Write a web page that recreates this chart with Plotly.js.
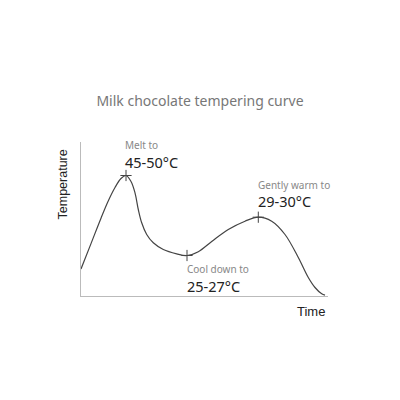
<!DOCTYPE html>
<html>
<head>
<meta charset="utf-8">
<script src="https://cdn.plot.ly/plotly-3.0.1.min.js"></script>
<style>html,body{margin:0;padding:0;background:#fff;}#chart{width:400px;height:400px;}</style>
</head>
<body>
<div id="chart"></div>
<script>
// Curve samples (time, temperature in arbitrary illustrative units)
const timeVals = [0, 10, 20, 27, 34, 40, 45, 50, 54, 57.3, 60.7, 65.7, 72.3, 82.3, 95.7, 106, 117.3, 130.7, 147.3, 164, 177.3, 190.7, 204, 217.3, 227.3, 234, 240.7, 244];
const tempVals = [27, 52.4, 77.8, 94.5, 108.5, 117.5, 120.5, 114.5, 103.2, 86.5, 73.2, 61.5, 53.2, 46.5, 42.2, 40.5, 44.3, 54.5, 66.5, 74.8, 78.8, 74.8, 61.5, 38.5, 18.5, 8.5, 2.2, 0.8];
// Key stage points
const stageTime = [45, 106, 177.3];
const stageTemp = [120.5, 40.5, 78.8];
const stageLabels = ["Melt to", "Cool down to", "Gently warm to"];
const stageTemps = ["45-50°C", "25-27°C", "29-30°C"];
// label offsets (in data units) relative to key points
const labelDX = [-2.5, -1, -1];
const labelDY1 = [30.5, -13.8, 32.7];
const labelDY2 = [14, -30, 16.2];

const traces = [
  {x: timeVals, y: tempVals, type: 'scatter', mode: 'lines',
   line: {color: '#444', width: 1.2, shape: 'spline', smoothing: 1}, hoverinfo: 'skip'},
  {x: stageTime, y: stageTemp, type: 'scatter', mode: 'markers',
   marker: {symbol: 'cross-thin', size: 8, line: {color: '#444', width: 1}}, hoverinfo: 'skip'}
];

const ann = [];
for (let i = 0; i < stageTime.length; i++) {
  ann.push({x: stageTime[i] + labelDX[i], y: stageTemp[i] + labelDY1[i], xref: 'x', yref: 'y',
    text: stageLabels[i], showarrow: false, xanchor: 'left', yanchor: 'middle', borderpad: 0,
    font: {family: 'Noto Sans', size: 10, color: '#888'}});
  ann.push({x: stageTime[i] + labelDX[i], y: stageTemp[i] + labelDY2[i], xref: 'x', yref: 'y',
    text: stageTemps[i], showarrow: false, xanchor: 'left', yanchor: 'middle', borderpad: 0,
    font: {family: 'Noto Sans', size: 14.5, color: '#222'}});
}
ann.push({x: -0.073, y: 0.724, xref: 'paper', yref: 'paper', text: 'Temperature', textangle: -90,
  showarrow: false, xanchor: 'center', yanchor: 'middle',
  font: {family: 'Liberation Sans', size: 12.5, color: '#222'}});
ann.push({x: 0.996, y: -0.1, xref: 'paper', yref: 'paper', text: 'Time',
  showarrow: false, xanchor: 'right', yanchor: 'middle',
  font: {family: 'Liberation Sans', size: 13, color: '#222'}});

const layout = {
  width: 400, height: 400,
  margin: {l: 81, r: 72, t: 142, b: 104},
  paper_bgcolor: '#fff', plot_bgcolor: '#fff',
  showlegend: false,
  title: {text: 'Milk chocolate tempering curve', x: 0.5, xanchor: 'center', y: 0.748, yanchor: 'middle',
    font: {family: 'Noto Sans', size: 14, color: '#777'}},
  xaxis: {range: [0, 247], showgrid: false, zeroline: false, showticklabels: false, ticks: '',
    showline: true, linecolor: '#bbb', linewidth: 1, fixedrange: true},
  yaxis: {range: [0, 154], showgrid: false, zeroline: false, showticklabels: false, ticks: '',
    showline: true, linecolor: '#bbb', linewidth: 1, fixedrange: true},
  annotations: ann
};
Plotly.newPlot('chart', traces, layout, {displayModeBar: false, staticPlot: true});
</script>
</body>
</html>
